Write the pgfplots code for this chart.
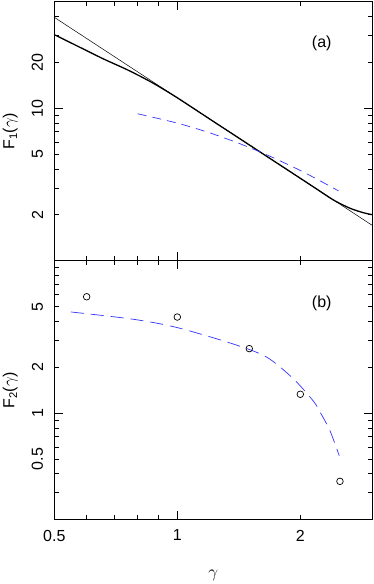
\documentclass[border=0pt]{standalone}
\usepackage{fontspec}
\setmainfont{Liberation Sans}
\usepackage{pgfplots}
\pgfplotsset{compat=1.18}
\usetikzlibrary{calc}
\definecolor{dashblue}{rgb}{0.2,0.2,1}

\begin{document}
\begin{tikzpicture}
% panel (a)
\begin{axis}[name=a,
    xmode=log, ymode=log,
    scale only axis, width=318pt, height=259pt,
    xmin=0.5, xmax=3, ymin=1, ymax=50,
    tick align=inside, xtick pos=both, ytick pos=both,
    axis line style={line width=1pt},
    every tick/.style={black, line width=0.8pt},
    major tick length=8.5pt, minor tick length=4.5pt,
    xtick={1}, minor xtick={0.6,0.7,0.8,0.9},
    extra x ticks={0.5,2},
    extra x tick style={major tick length=4.5pt},
    extra y tick style={major tick length=4.5pt},
    tick label style={font=\fontsize{16}{19}\selectfont},
    yticklabel style={rotate=90, anchor=south, inner xsep=0pt, inner ysep=11pt},
    xticklabels={}, extra x tick labels={},
    ytick={10}, yticklabels={10},
    extra y ticks={2,5,20}, extra y tick labels={2,5,20},
    minor ytick={3,4,6,7,8,9,30,40},
    ylabel={F\textsubscript{1}($\gamma$)},
    ylabel style={font=\fontsize{16}{19}\selectfont, inner sep=0pt, at={(axis description cs:-0.114,0.5)}, anchor=south}]
  \addplot[black, line width=0.5pt] coordinates {(0.5,39.5) (3,1.705)};
  \addplot[black, line width=1.3pt, smooth] coordinates {
    (0.5,30.4) (0.5743,25.3) (0.6598,21.06) (0.7579,17.78) (0.8706,14.66)
    (1.0,11.71) (1.2,8.50) (1.4142,6.376) (1.7,4.616) (2.0,3.472)
    (2.2,2.935) (2.411,2.500) (2.639,2.215) (2.848,2.067) (3.0,2.003)};
  \addplot[dashblue, line width=0.7pt, dash pattern=on 9pt off 6pt, smooth] coordinates {
    (0.8,9.20) (1.0,7.99) (1.2,6.90) (1.4,5.95) (1.6,5.15)
    (1.8,4.47) (2.0,3.905) (2.2,3.42) (2.48,2.87)};
  \node[font=\fontsize{16}{19}\selectfont] at (axis description cs:0.841,0.84) {(a)};
\end{axis}
% panel (b)
\begin{axis}[name=b, at={(a.south west)}, anchor=north west,
    xmode=log, ymode=log,
    scale only axis, width=318pt, height=259pt,
    xmin=0.5, xmax=3, ymin=0.2, ymax=10,
    tick align=inside, xtick pos=both, ytick pos=both,
    axis line style={line width=1pt},
    every tick/.style={black, line width=0.8pt},
    major tick length=8.5pt, minor tick length=4.5pt,
    xtick={1}, minor xtick={0.6,0.7,0.8,0.9},
    extra x ticks={0.5,2},
    extra x tick style={major tick length=4.5pt},
    extra y tick style={major tick length=4.5pt},
    tick label style={font=\fontsize{16}{19}\selectfont},
    yticklabel style={rotate=90, anchor=south, inner xsep=0pt, inner ysep=11pt},
    xticklabel style={anchor=north, inner sep=0pt, yshift=-10pt},
    xticklabels={1}, extra x tick labels={0.5,2},
    ytick={1}, yticklabels={1},
    extra y ticks={0.5,2,5}, extra y tick labels={0.5,2,5},
    minor ytick={0.3,0.4,0.6,0.7,0.8,0.9,3,4,6,7,8,9},
    ylabel={F\textsubscript{2}($\gamma$)},
    ylabel style={font=\fontsize{16}{19}\selectfont, inner sep=0pt, at={(axis description cs:-0.114,0.5)}, anchor=south},
    xlabel={$\gamma$},
    xlabel style={font=\fontsize{16}{19}\selectfont, at={(axis description cs:0.5,0)}, anchor=north, yshift=-47pt}]
  \addplot[dashblue, line width=0.7pt, dash pattern=on 13pt off 7pt, smooth] coordinates {
    (0.549,4.61) (0.78,4.13) (1.0,3.64) (1.371,2.84) (1.655,2.33)
    (1.923,1.68) (2.152,1.20) (2.25,0.985) (2.364,0.766) (2.49,0.526)};
  \addplot[only marks, mark=o, mark size=3.3pt, black, line width=0.7pt] coordinates {
    (0.6,5.8) (1.0,4.27) (1.5,2.65) (2.0,1.33) (2.5,0.357)};
  \node[font=\fontsize{16}{19}\selectfont] at (axis description cs:0.841,0.837) {(b)};
\end{axis}
\pgfresetboundingbox
\path ($(a.north west)+(-54.3pt,1.7pt)$) rectangle ($(b.south east)+(1.7pt,-64.3pt)$);
\end{tikzpicture}
\end{document}
